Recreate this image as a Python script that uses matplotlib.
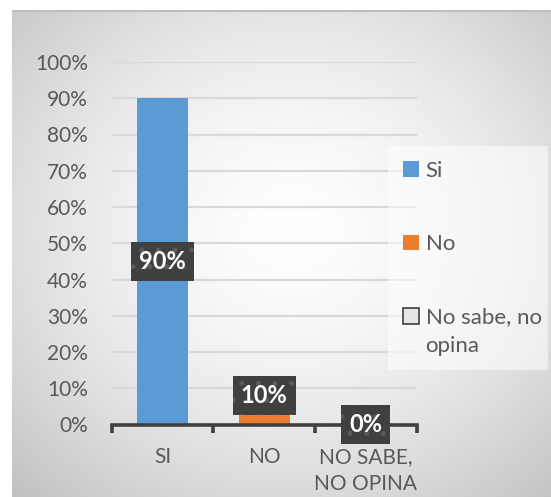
import matplotlib.pyplot as plt
import matplotlib.patches as mpatches
import numpy as np

plt.rcParams['font.family'] = ['Lato', 'DejaVu Sans']
plt.rcParams['hatch.linewidth'] = 1.2

categorias = ['SI', 'NO', 'NO SABE,\nNO OPINA']
valores = [0.90, 0.10, 0.00]
etiquetas = ['90%', '10%', '0%']
series = ['Si', 'No', 'No sabe, no', 'opina']
colores = ['#5B9BD5', '#ED7D31', '#E7E6E6']

W, H = 551, 497
fig = plt.figure(figsize=(W / 100, H / 100), dpi=100)

# fondo con degradado radial
bg = fig.add_axes([12 / W, 0, 1 - 12 / W, 487 / H])
yy, xx = np.mgrid[0:1:300j, 0:1:330j]
r = np.sqrt(((xx - 0.52) / 0.75) ** 2 + ((yy - 0.55) / 0.75) ** 2)
g = 1.0 - 0.24 * np.clip(r, 0, 1) ** 1.6
bg.imshow(np.dstack([g, g, g]), extent=[0, 1, 0, 1], origin='lower', aspect='auto')
bg.axhline(1, color='#bdbdbd', lw=3)
bg.set_xlim(0, 1)
bg.set_ylim(0, 1)
bg.axis('off')

# caja de la leyenda
fig.patches.append(mpatches.Rectangle((388 / W, 1 - 370 / H), 160 / W, 224 / H,
                                      transform=fig.transFigure, facecolor='white',
                                      alpha=0.55, edgecolor='none', zorder=1))

ax = fig.add_axes([111.7 / W, 1 - 424.5 / H, 305 / W, (424.5 - 62) / H])
ax.patch.set_alpha(0)
x = np.arange(len(categorias))
for i in range(len(categorias)):
    ax.bar(x[i], valores[i], width=0.5, color=colores[i], zorder=3,
           edgecolor='#404040' if i == 2 else 'none')

ax.set_ylim(0, 1.0)
ax.set_xlim(-0.5, 2.5)
ax.set_yticks(np.arange(0, 1.01, 0.1))
ax.set_yticklabels([f'{int(round(v * 100))}%' for v in np.arange(0, 1.01, 0.1)])
ax.yaxis.grid(True, color='#d9d9d9', lw=1.6, zorder=0)
ax.set_axisbelow(True)
for s in ['top', 'right', 'left']:
    ax.spines[s].set_visible(False)
ax.spines['bottom'].set_color('#404040')
ax.spines['bottom'].set_linewidth(2.6)
ax.spines['bottom'].set_zorder(4)
ax.tick_params(axis='y', length=0, pad=17, labelsize=15, labelcolor='#595959')
ax.set_xticks(x)
ax.set_xticklabels(categorias, linespacing=1.45)
ax.set_xticks([-0.5, 0.5, 1.5, 2.5], minor=True)
ax.tick_params(axis='x', which='major', length=0, pad=16, labelsize=15, labelcolor='#595959')
ax.tick_params(axis='x', which='minor', length=6, width=2.6, color='#404040', direction='out')

# etiquetas de datos
pos_y = [valores[0] / 2, 0.08, 0.0]
for i in range(len(categorias)):
    ax.text(x[i], pos_y[i], etiquetas[i], ha='center', va='center', color='white',
            fontsize=17, fontweight='bold', zorder=6,
            bbox=dict(boxstyle='square,pad=0.34', facecolor='#404040',
                      edgecolor='#5a5a5a', hatch='.', lw=0))

handles = [mpatches.Patch(facecolor=colores[i], edgecolor='#404040' if i == 2 else colores[i],
                          lw=1.2 if i == 2 else 0) for i in range(3)]
leg = fig.legend(handles, series[:3], loc='upper left', bbox_to_anchor=(394 / W, 1 - 152 / H),
                 frameon=False, fontsize=16, handlelength=0.72, handleheight=0.72,
                 handletextpad=0.3, labelspacing=2.4, borderaxespad=0)
for txt in leg.get_texts():
    txt.set_color('#595959')

# segunda línea de la última entrada de la leyenda
fig.canvas.draw()
ext = leg.get_texts()[2].get_window_extent()
fig.text(ext.x0 / W, (ext.y0 - 28) / H, series[3], fontsize=16, color='#595959',
         ha='left', va='bottom')

fig.savefig('out.png', dpi=100)
